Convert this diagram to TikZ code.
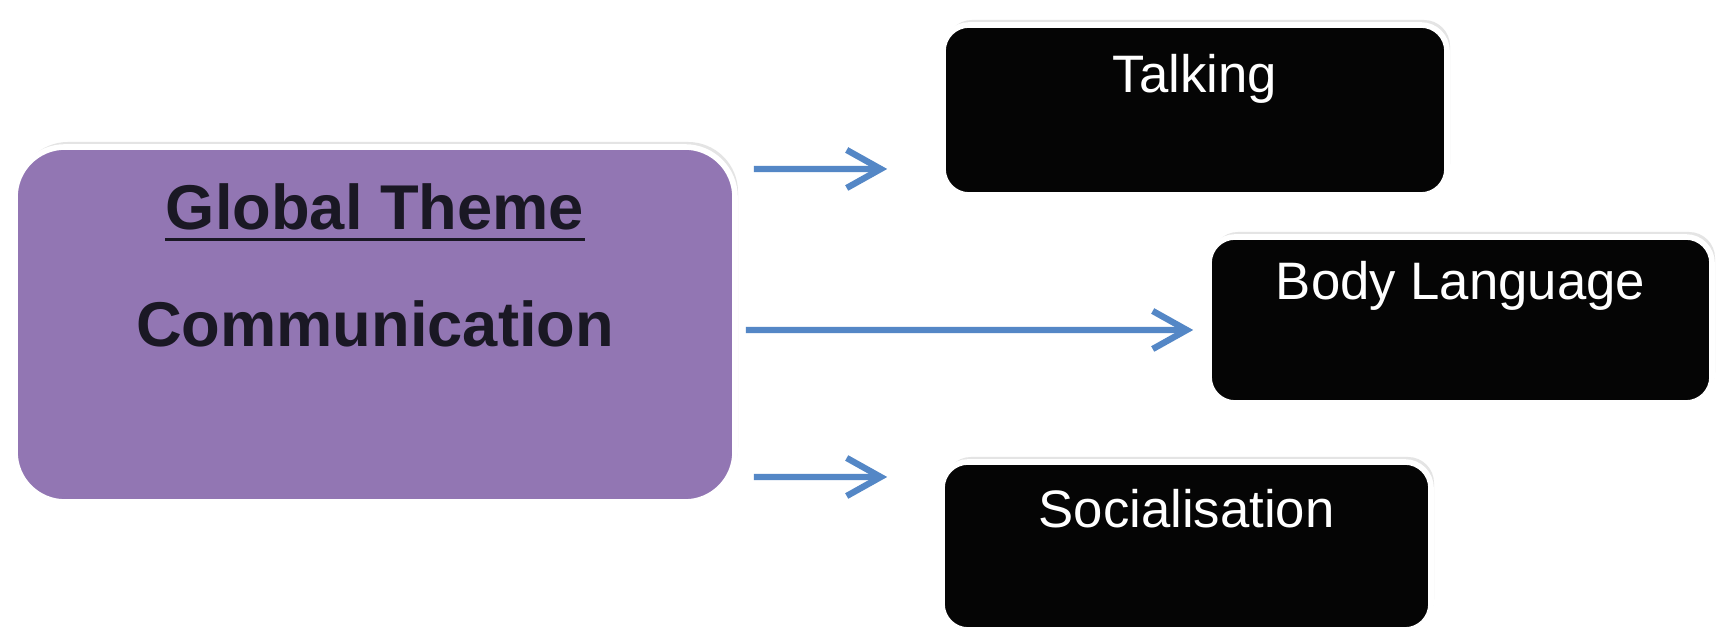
\documentclass[tikz,border=0pt]{standalone}
\usepackage{fontspec}
\setmainfont{Liberation Sans}
\usetikzlibrary{arrows.meta}
\usetikzlibrary{shadows}

\definecolor{themepurple}{RGB}{146,118,179}
\definecolor{linkblue}{RGB}{84,135,198}
\definecolor{inkdark}{RGB}{26,24,36}

\begin{document}
\begin{tikzpicture}[x=1cm,y=1cm,
    theme/.style={draw=white, line width=1.6pt, fill=themepurple, rounded corners=0.5cm,
      inner sep=0pt, drop shadow={shadow xshift=0.3mm, shadow yshift=0.5mm, fill=black!30, opacity=0.35}},
    leaf/.style={draw=white, line width=1.6pt, fill=black!98, rounded corners=0.26cm,
      inner sep=0pt, drop shadow={shadow xshift=0.3mm, shadow yshift=0.5mm, fill=black!30, opacity=0.35}},
    themetext/.style={font=\bfseries\fontsize{18}{22}\selectfont, text=inkdark, anchor=base, inner sep=0pt},
    leaftext/.style={font=\fontsize{15}{18}\selectfont, text=white, anchor=base, inner sep=0pt},
    link/.style={draw=linkblue, line width=1.8pt, -{Straight Barb[length=3.4mm, width=3.8mm, line width=1.8pt]}}]
        \useasboundingbox[fill=white] (0,0) rectangle (17.24,6.33);

        \node[theme, minimum width=7.2cm, minimum height=3.55cm] (global) at (3.75,3.085) {};
        \node[leaf, minimum width=5.04cm, minimum height=1.70cm] (talk) at (11.95,5.23) {};
        \node[leaf, minimum width=5.03cm, minimum height=1.66cm] (body) at (14.605,3.13) {};
        \node[leaf, minimum width=4.89cm, minimum height=1.68cm] (social) at (11.865,0.87) {};

        \node[themetext] (gtitle) at ([yshift=-0.85cm]global.north) {Global Theme};
        \draw[inkdark, line width=0.9pt] ([yshift=-1mm]gtitle.base west) -- ([yshift=-1mm]gtitle.base east);
        \node[themetext] (gname) at ([yshift=-2.02cm]global.north) {Communication};

        \node[leaftext] (talklabel) at ([yshift=-0.70cm]talk.north) {Talking};
        \node[leaftext] (bodylabel) at ([yshift=-0.65cm]body.north) {Body Language};
        \node[leaftext] (sociallabel) at ([yshift=-0.68cm]social.north) {Socialisation};

        \draw[link] ([shift={(0.16,1.555)}]global.east) -- ([shift={(-0.53,-0.59)}]talk.west);
        \draw[link] ([shift={(0.08,-0.055)}]global.east) -- ([shift={(-0.13,-0.10)}]body.west);
        \draw[link] ([shift={(0.16,-1.525)}]global.east) -- ([shift={(-0.52,0.69)}]social.west);
\end{tikzpicture}
\end{document}
